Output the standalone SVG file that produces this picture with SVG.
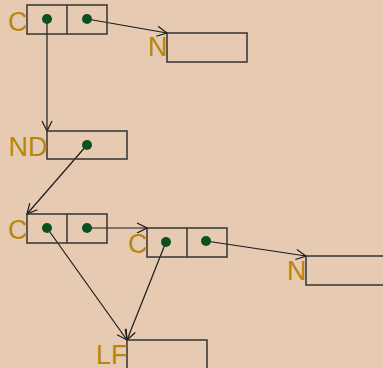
<svg xmlns="http://www.w3.org/2000/svg" width="383" height="368" viewBox="0 0 383 368">
  <style>
    .box { fill: none; stroke: #333333; stroke-width: 1.5; }
    .dot { fill: #0b5020; }
    .lbl { font-family: "Liberation Sans", Arial, sans-serif; font-size: 27px; fill: #b8860b; text-anchor: end; }
    .edge { fill: none; stroke: #1a1a1a; stroke-width: 1.2; marker-end: url(#arrow); }
  </style>
  <defs>
    <marker id="arrow" viewBox="0 0 12 12" refX="11" refY="6" markerWidth="12" markerHeight="12" markerUnits="userSpaceOnUse" orient="auto">
      <path d="M1,1 L11,6 L1,11" fill="none" stroke="#1a1a1a" stroke-width="1.2"/>
    </marker>
  </defs>
  <rect width="383" height="368" fill="#e6cbb2"/>

  <g id="edges">
    <line class="edge" x1="47" y1="19" x2="47" y2="131"/>
    <line class="edge" x1="87" y1="19" x2="167" y2="33"/>
    <line class="edge" x1="87" y1="145" x2="27" y2="214"/>
    <line class="edge" x1="87" y1="228" x2="147" y2="228"/>
    <line class="edge" x1="206" y1="241" x2="306" y2="256"/>
    <line class="edge" x1="47" y1="228" x2="127" y2="340"/>
    <line class="edge" x1="166" y1="242" x2="127" y2="340"/>
  </g>

  <g id="c1">
    <rect class="box" x="27" y="5" width="80" height="29"/>
    <line class="box" x1="67" y1="5" x2="67" y2="34"/>
    <circle class="dot" cx="47" cy="19" r="5"/>
    <circle class="dot" cx="87" cy="19" r="5"/>
    <text class="lbl" x="27.5" y="31">C</text>
  </g>

  <g id="n1">
    <rect class="box" x="167" y="33" width="80" height="29"/>
    <text class="lbl" x="167.5" y="56">N</text>
  </g>

  <g id="nd">
    <rect class="box" x="47" y="131" width="80" height="28"/>
    <circle class="dot" cx="87" cy="145" r="5"/>
    <text class="lbl" x="47.5" y="156">ND</text>
  </g>

  <g id="c2">
    <rect class="box" x="27" y="214" width="80" height="29"/>
    <line class="box" x1="67" y1="214" x2="67" y2="243"/>
    <circle class="dot" cx="47" cy="228" r="5"/>
    <circle class="dot" cx="87" cy="228" r="5"/>
    <text class="lbl" x="27.5" y="239">C</text>
  </g>

  <g id="c3">
    <rect class="box" x="147" y="228" width="80" height="29"/>
    <line class="box" x1="187" y1="228" x2="187" y2="257"/>
    <circle class="dot" cx="166" cy="242" r="5"/>
    <circle class="dot" cx="206" cy="241" r="5"/>
    <text class="lbl" x="147.5" y="253">C</text>
  </g>

  <g id="n2">
    <rect class="box" x="306" y="256" width="80" height="29"/>
    <text class="lbl" x="306.5" y="280">N</text>
  </g>

  <g id="lf">
    <rect class="box" x="127" y="340" width="80" height="29"/>
    <text class="lbl" x="127.5" y="364">LF</text>
  </g>
</svg>
